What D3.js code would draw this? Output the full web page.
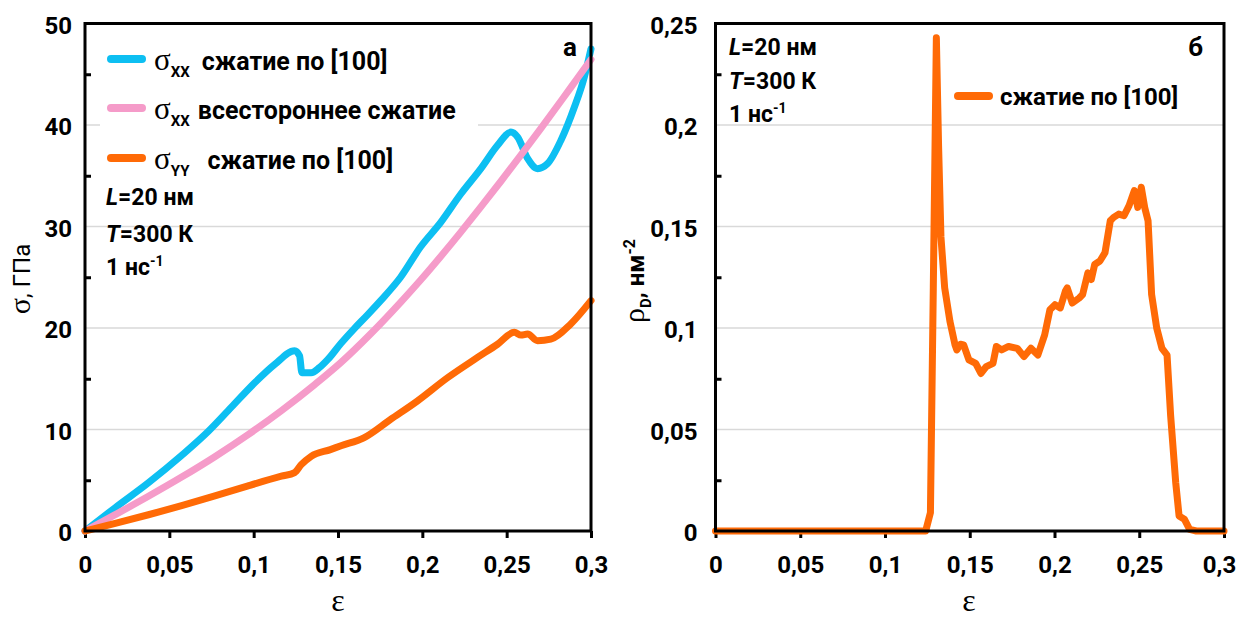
<!DOCTYPE html>
<html>
<head>
<meta charset="utf-8">
<script src="https://cdn.jsdelivr.net/npm/d3@7"></script>
<style>
  html, body { margin: 0; padding: 0; background: #fff; }
  svg { display: block; }
  .sans { font-family: Roboto, "Open Sans", "Noto Sans", sans-serif; }
  .serif { font-family: "Liberation Serif", "DejaVu Serif", serif; }
</style>
</head>
<body>
<svg id="chart" width="1238" height="618"></svg>
<script>
// ---- Panel (а): stress vs strain ----
const epsSxx100 = [0, 0.0179, 0.0376, 0.0573, 0.073, 0.0868, 0.1006, 0.1124, 0.1243, 0.1272, 0.1286, 0.1341, 0.139, 0.144, 0.1518, 0.1594, 0.1675, 0.1753, 0.1871, 0.199, 0.2109, 0.2228, 0.2347, 0.2446, 0.2525, 0.2565, 0.2624, 0.2683, 0.2743, 0.2822, 0.29, 0.296, 0.3];
const sigmaSxx100 = [0, 2.3, 4.75, 7.45, 9.8, 12.2, 14.6, 16.4, 17.76, 17.26, 15.6, 15.6, 16.1, 16.9, 18.5, 19.9, 21.3, 22.7, 25.0, 28.0, 30.4, 33.2, 35.7, 38.0, 39.3, 38.8, 36.7, 35.7, 36.2, 38.5, 41.7, 44.7, 47.5];

const epsSxxHydro = [0, 0.0179, 0.0376, 0.0573, 0.077, 0.0967, 0.1164, 0.1361, 0.1518, 0.1694, 0.1871, 0.199, 0.2109, 0.2228, 0.2347, 0.2466, 0.2584, 0.2703, 0.2822, 0.291, 0.3];
const sigmaSxxHydro = [0, 1.61, 3.42, 5.31, 7.32, 9.49, 11.85, 14.41, 16.61, 19.43, 22.53, 24.73, 27.05, 29.45, 31.93, 34.46, 37.03, 39.67, 42.36, 44.38, 46.45];

const epsSyy100 = [0, 0.0179, 0.0376, 0.0573, 0.077, 0.0967, 0.1164, 0.1243, 0.1282, 0.1341, 0.1455, 0.1518, 0.1653, 0.1812, 0.197, 0.2149, 0.2327, 0.2446, 0.2545, 0.2585, 0.2624, 0.2683, 0.2762, 0.288, 0.3];
const sigmaSyy100 = [0, 0.75, 1.6, 2.5, 3.45, 4.45, 5.4, 5.75, 6.53, 7.36, 8.02, 8.4, 9.18, 11.0, 12.8, 15.1, 17.1, 18.4, 19.57, 19.3, 19.4, 18.75, 18.9, 20.4, 22.7];

// ---- Panel (б): dislocation density vs strain ----
const epsRho = [0, 0.124, 0.1268, 0.1285, 0.1303, 0.1316, 0.133, 0.1352, 0.1383, 0.1413, 0.1424, 0.1445, 0.1464, 0.1495, 0.1535, 0.1566, 0.1597, 0.1637, 0.1657, 0.1688, 0.1729, 0.178, 0.182, 0.1861, 0.1902, 0.1942, 0.1973, 0.2003, 0.2034, 0.2064, 0.2075, 0.2105, 0.2146, 0.2166, 0.2197, 0.2217, 0.2237, 0.2268, 0.2298, 0.2329, 0.2349, 0.2379, 0.241, 0.244, 0.2471, 0.2491, 0.2512, 0.2532, 0.2552, 0.2573, 0.2603, 0.2634, 0.2664, 0.2685, 0.2715, 0.2735, 0.2766, 0.2797, 0.2837, 0.3];
const rhoD = [0, 0, 0.009, 0.12, 0.243, 0.19, 0.145, 0.1198, 0.1033, 0.0917, 0.0892, 0.092, 0.0917, 0.0843, 0.0826, 0.0776, 0.081, 0.0826, 0.0909, 0.0892, 0.0909, 0.09, 0.0859, 0.09, 0.0867, 0.0966, 0.109, 0.1115, 0.1099, 0.1181, 0.1198, 0.1123, 0.1148, 0.1165, 0.1272, 0.1239, 0.1313, 0.133, 0.1371, 0.1528, 0.1545, 0.1561, 0.1553, 0.1603, 0.1677, 0.1594, 0.1693, 0.1594, 0.1528, 0.1165, 0.1, 0.09, 0.0867, 0.057, 0.024, 0.0074, 0.0058, 0.0008, 0, 0];

// ---- Ticks ----
const epsTicks = [0, 0.05, 0.1, 0.15, 0.2, 0.25, 0.3];
const sigmaTicks = [0, 10, 20, 30, 40, 50];
const sigmaMinor = [5, 15, 25, 35, 45];
const rhoTicks = [0, 0.05, 0.1, 0.15, 0.2, 0.25];
const rhoMinor = [0.025, 0.075, 0.125, 0.175, 0.225];

const COLORS = { blue: "#0dbff2", pink: "#f59bc9", orange: "#ff6a06" };

const fmt = d => String(+d.toFixed(3)).replace(".", ",");
const svg = d3.select("#chart");

const TOP = 23.5, BOTTOM = 531;

function buildPanel(opt) {
  const x = d3.scaleLinear().domain([0, 0.3]).range([opt.left, opt.right]);
  const y = d3.scaleLinear().domain([0, opt.ymax]).range([BOTTOM, TOP]);
  const g = svg.append("g");

  // gridlines
  g.append("g").selectAll("line")
    .data(opt.yTicks.filter(v => v > 0 && v < opt.ymax))
    .join("line")
    .attr("x1", opt.left).attr("x2", opt.right)
    .attr("y1", d => y(d)).attr("y2", d => y(d))
    .attr("stroke", "#d9d9d9").attr("stroke-width", 1.3);

  // x axis (ticks outward + labels)
  const xa = g.append("g").attr("transform", `translate(0,${BOTTOM})`)
    .call(d3.axisBottom(x).tickValues(epsTicks).tickSize(7).tickPadding(18).tickFormat(fmt));
  xa.select(".domain").remove();
  xa.selectAll("line").attr("stroke", "#000").attr("stroke-width", 3);
  xa.selectAll("text").attr("class", "sans").attr("font-size", 24).attr("font-weight", 700).attr("fill", "#000");
  if (opt.lastShift) xa.selectAll("text").filter(d => d === 0.3).attr("dx", opt.lastShift);

  // y axis labels
  const ya = g.append("g").attr("transform", `translate(${opt.left},0)`)
    .call(d3.axisLeft(y).tickValues(opt.yTicks).tickSize(0).tickPadding(opt.yPad).tickFormat(opt.yFmt));
  ya.select(".domain").remove();
  ya.selectAll("text").attr("class", "sans").attr("font-size", 24).attr("font-weight", 700).attr("fill", "#000")
    .attr("dy", "0.4em");

  // minor ticks on the inside of the left axis
  const ym = g.append("g").attr("transform", `translate(${opt.left},0)`)
    .call(d3.axisRight(y).tickValues(opt.yMinor).tickSize(6).tickFormat(""));
  ym.select(".domain").remove();
  ym.selectAll("line").attr("stroke", "#000").attr("stroke-width", 3);

  return { g, x, y };
}

function frame(p, opt) {
  p.g.append("rect")
    .attr("x", opt.left).attr("y", TOP)
    .attr("width", opt.right - opt.left).attr("height", BOTTOM - TOP)
    .attr("fill", "none").attr("stroke", "#000").attr("stroke-width", 3);
}

function drawSeries(p, xs, ys, color, curve) {
  const pts = xs.map((e, i) => [e, ys[i]]);
  p.g.append("path")
    .datum(pts)
    .attr("d", d3.line().curve(curve || d3.curveLinear).x(d => p.x(d[0])).y(d => p.y(d[1])))
    .attr("fill", "none").attr("stroke", color).attr("stroke-width", 7)
    .attr("stroke-linejoin", "round").attr("stroke-linecap", "round");
}

function textLine(g, x, y, parts, anchor) {
  const t = g.append("text").attr("x", x).attr("y", y).attr("fill", "#000");
  if (anchor) t.attr("text-anchor", anchor);
  parts.forEach(pt => {
    const s = t.append("tspan").text(pt.t)
      .attr("class", pt.serif ? "serif" : "sans")
      .attr("font-size", pt.size || 24)
      .attr("font-weight", pt.w || 700);
    if (pt.italic) s.attr("font-style", "italic");
    if (pt.dy) s.attr("dy", pt.dy);
    if (pt.dx) s.attr("dx", pt.dx);
  });
  return t;
}

function conditions(g, x, ys) {
  textLine(g, x, ys[0], [{ t: "L", italic: true, size: 23 }, { t: "=20 нм", size: 23 }]);
  textLine(g, x, ys[1], [{ t: "T", italic: true, size: 23 }, { t: "=300 К", size: 23 }]);
  textLine(g, x, ys[2], [{ t: "1 нс", size: 23 }, { t: "-1", size: 14, dy: -9 }]);
}

// ===== Panel а =====
const optA = { left: 85, right: 591, ymax: 50, yTicks: sigmaTicks, yMinor: sigmaMinor, yPad: 13, yFmt: d => d };
const pA = buildPanel(optA);

// legend background
pA.g.append("rect").attr("x", 100).attr("y", 32).attr("width", 378).attr("height", 142).attr("fill", "#fff");

drawSeries(pA, epsSxx100, sigmaSxx100, COLORS.blue, d3.curveMonotoneX);
drawSeries(pA, epsSxxHydro, sigmaSxxHydro, COLORS.pink, d3.curveMonotoneX);
drawSeries(pA, epsSyy100, sigmaSyy100, COLORS.orange, d3.curveMonotoneX);
frame(pA, optA);

const legendA = [
  { c: COLORS.blue, y: 59, sub: "XX", text: "сжатие по [100]", gap: 12 },
  { c: COLORS.pink, y: 108, sub: "XX", text: "всестороннее сжатие", gap: 8 },
  { c: COLORS.orange, y: 158, sub: "YY", text: "сжатие по [100]", gap: 18 }
];
legendA.forEach(l => {
  pA.g.append("line").attr("x1", 111).attr("x2", 142).attr("y1", l.y).attr("y2", l.y)
    .attr("stroke", l.c).attr("stroke-width", 8).attr("stroke-linecap", "round");
  textLine(pA.g, 154, l.y + 11, [
    { t: "σ", serif: true, w: 400, size: 31 },
    { t: l.sub, size: 15, dy: 7 },
    { t: l.text, size: 25, dy: -7, dx: l.gap }
  ]);
});
conditions(pA.g, 106, [205, 242, 275]);
textLine(pA.g, 577, 56, [{ t: "а", size: 26 }], "end");

// axis titles
textLine(svg, 338, 611, [{ t: "ε", serif: true, w: 400, size: 32 }], "middle");
svg.append("g").attr("transform", "translate(30,279) rotate(-90)").call(g => {
  textLine(g, 0, 0, [{ t: "σ", serif: true, w: 400, size: 30 }, { t: ", ГПа", size: 24, w: 400 }], "middle");
});

// ===== Panel б =====
const optB = { left: 715.5, right: 1224, ymax: 0.25, yTicks: rhoTicks, yMinor: rhoMinor, yPad: 18, yFmt: fmt, lastShift: -5 };
const pB = buildPanel(optB);
drawSeries(pB, epsRho, rhoD, COLORS.orange);
frame(pB, optB);

pB.g.append("line").attr("x1", 958).attr("x2", 989).attr("y1", 96).attr("y2", 96)
  .attr("stroke", COLORS.orange).attr("stroke-width", 8).attr("stroke-linecap", "round");
textLine(pB.g, 1000, 105, [{ t: "сжатие по [100]", size: 24 }]);
conditions(pB.g, 729, [55, 89, 122]);
textLine(pB.g, 1203, 56, [{ t: "б", size: 26 }], "end");

textLine(svg, 969, 611, [{ t: "ε", serif: true, w: 400, size: 32 }], "middle");
svg.append("g").attr("transform", "translate(644,281) rotate(-90)").call(g => {
  textLine(g, 0, 0, [
    { t: "ρ", serif: true, w: 400, size: 30 },
    { t: "D", size: 15, dy: 7 },
    { t: ", нм", size: 24, dy: -7 },
    { t: "-2", size: 16, dy: -9 }
  ], "middle");
});
</script>
</body>
</html>
